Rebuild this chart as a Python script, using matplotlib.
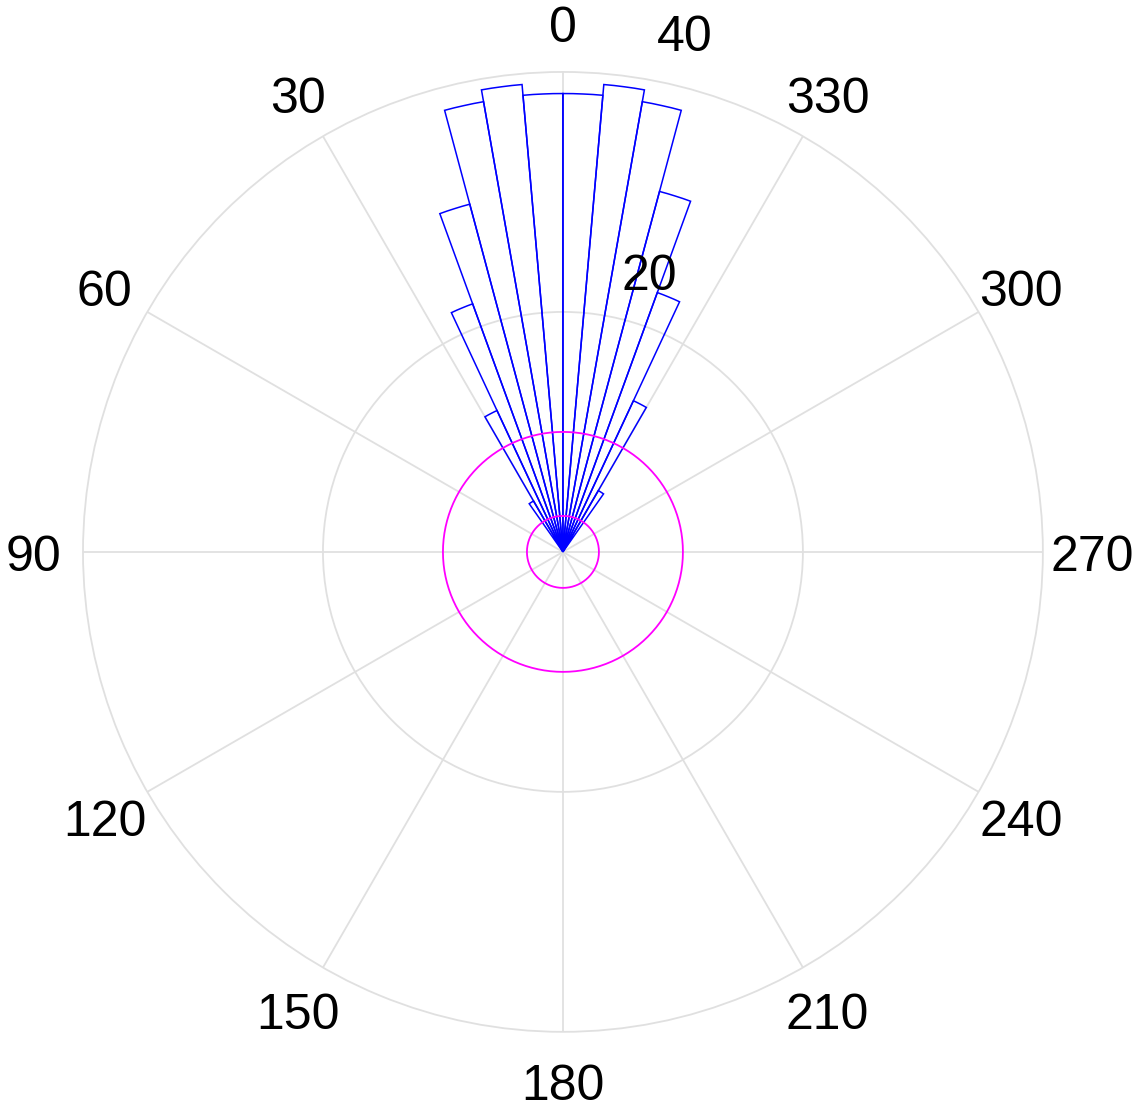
import matplotlib.pyplot as plt
import matplotlib.transforms as mtransforms
import numpy as np

plt.rcParams['font.family'] = ['Liberation Sans', 'DejaVu Sans']

# bin edges (deg), counter-clockwise from north
bin_left = [-35, -30, -25, -20, -15, -10, -5, 0, 5, 10, 15, 20, 25, 30]
counts = [5.9, 13.9, 23.0, 31.1, 38.1, 39.1, 38.2, 38.2, 39.1, 38.1, 30.0, 22.0, 13.0, 4.9]
bin_width = 5

ring_r = [10, 3]
theta_ticks = list(range(0, 360, 30))
r_ticks = [20, 40]

fig = plt.figure(figsize=(11.4, 11.1), dpi=100)
ax = fig.add_axes([0.0728, 0.0703, 0.842, 0.865], projection='polar')
ax.set_theta_zero_location('N')
ax.set_theta_direction(1)

theta = np.deg2rad(np.array(bin_left) + bin_width / 2)
ax.bar(theta, counts, width=np.deg2rad(bin_width), bottom=0,
       facecolor='none', edgecolor='#0000ff', linewidth=1.1, zorder=3)

circ = np.linspace(0, 2 * np.pi, 361)
for r in ring_r:
    ax.plot(circ, np.full_like(circ, r), color='#ff00ff', lw=1.3, zorder=4)

ax.set_ylim(0, 40)
ax.set_xticks(np.deg2rad(theta_ticks))
ax.set_xticklabels([str(t) for t in theta_ticks], fontsize=36)
ax.tick_params(axis='x', pad=25)
ax.set_yticks(r_ticks)
ax.set_yticklabels([])
ax.grid(True, color='#e0e0e0', lw=1.3)
for gl in ax.yaxis.get_gridlines():
    gl.set_clip_on(False)
ax.spines['polar'].set_visible(False)

# nudge angle labels down a bit
shift = mtransforms.ScaledTranslation(0, -0.06, fig.dpi_scale_trans)
for lbl in ax.get_xticklabels():
    lbl.set_transform(lbl.get_transform() + shift)

# radial labels, placed like the original
for r, ang, lab in [(24.0, -17.4, '20'), (44.0, -13.3, '40')]:
    ax.text(np.deg2rad(ang), r, lab, fontsize=36, ha='center', va='center')

fig.savefig('out.png', dpi=100)
